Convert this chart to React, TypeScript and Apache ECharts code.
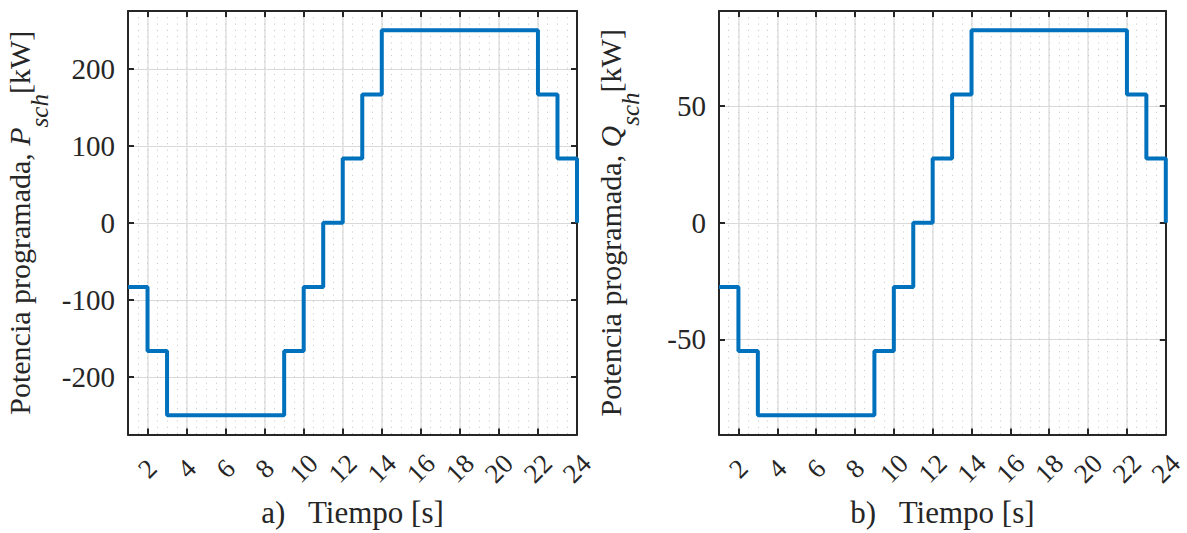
import React, { useEffect, useRef } from 'react';
import * as echarts from 'echarts';

// ---- data ----
const hours = [1, 2, 3, 4, 5, 6, 7, 8, 9, 10, 11, 12, 13, 14, 15, 16, 17, 18, 19, 20, 21, 22, 23, 24];
const pValues = [-83.33, -166.67, -250, -250, -250, -250, -250, -250, -166.67, -83.33, 0, 83.33, 166.67, 250, 250, 250, 250, 250, 250, 250, 250, 166.67, 83.33, 0];
const qValues = [-27.5, -55, -82.5, -82.5, -82.5, -82.5, -82.5, -82.5, -55, -27.5, 0, 27.5, 55, 82.5, 82.5, 82.5, 82.5, 82.5, 82.5, 82.5, 82.5, 55, 27.5, 0];
const xTicks = [2, 4, 6, 8, 10, 12, 14, 16, 18, 20, 22, 24];
const pTicks = [-200, -100, 0, 100, 200];
const qTicks = [-50, 0, 50];
const xRange = [1, 24];
const pRange = [-275, 275];
const qRange = [-90.75, 90.75];
const panelLabels = ['a)', 'b)'];
const yNames = ['P', 'Q'];

const FONT = 'Liberation Serif';
const DARK = '#262626';
const BLUE = '#0072BD';

export default function App() {
  const ref = useRef<HTMLDivElement>(null);
  useEffect(() => {
    if (!ref.current) return;
    const chart = echarts.init(ref.current, null, { renderer: 'svg' });
    const grids = [
      { left: 128, top: 11, width: 449, height: 426 },
      { left: 719, top: 11, width: 449, height: 426 },
    ];
    const panels = [
      { values: pValues, ticks: pTicks, range: pRange },
      { values: qValues, ticks: qTicks, range: qRange },
    ];
    const xAxis: any[] = [];
    const yAxis: any[] = [];
    const series: any[] = [];
    panels.forEach((pn, i) => {
      xAxis.push({
        gridIndex: i, type: 'value', position: 'bottom', min: xRange[0], max: xRange[1],
        axisLine: { show: true, onZero: false, lineStyle: { color: DARK, width: 2 } },
        axisTick: { show: true, inside: true, length: 6, customValues: xTicks, lineStyle: { color: DARK, width: 2 } },
        axisLabel: {
          customValues: xTicks, rotate: 45, margin: 34, align: 'center', verticalAlign: 'middle',
          fontFamily: FONT, fontSize: 27, color: DARK,
          formatter: (v: number) => '{t|' + v + '}',
          rich: { t: { fontFamily: FONT, fontSize: 27, color: DARK } },
        },
        splitLine: { show: true, lineStyle: { color: '#e0e0e0', width: 1.5 } },
        name: panelLabels[i] + '   Tiempo [s]', nameLocation: 'middle', nameGap: 63,
        nameTextStyle: { fontFamily: FONT, fontSize: 31, color: DARK, lineHeight: 30 },
      });
      xAxis.push({
        gridIndex: i, type: 'value', position: 'top', min: xRange[0], max: xRange[1],
        axisLine: { show: true, onZero: false, lineStyle: { color: DARK, width: 2 } },
        axisTick: { show: true, inside: true, length: 6, customValues: xTicks, lineStyle: { color: DARK, width: 2 } },
        axisLabel: { show: false },
        splitLine: { show: false },
      });
      xAxis.push({
        gridIndex: i, type: 'value', position: 'top', min: xRange[0], max: xRange[1], interval: 0.5,
        axisLine: { show: false }, axisTick: { show: false }, axisLabel: { show: false },
        splitLine: { show: true, lineStyle: { color: '#c4c4c4', width: 1, type: [1, 5.3] } },
      });
      yAxis.push({
        gridIndex: i, type: 'value', position: 'left', min: pn.range[0], max: pn.range[1],
        axisLine: { show: true, onZero: false, lineStyle: { color: DARK, width: 2 } },
        axisTick: { show: true, inside: true, length: 6, customValues: pn.ticks, lineStyle: { color: DARK, width: 2 } },
        axisLabel: {
          customValues: pn.ticks, margin: 13, fontFamily: FONT, fontSize: 29, color: DARK,
          formatter: (v: number) => '{t|' + v + '}',
          rich: { t: { fontFamily: FONT, fontSize: 29, color: DARK } },
        },
        splitLine: { show: true, lineStyle: { color: '#d9d9d9', width: 1 } },
        name: '{a|Potencia programada, }{i|' + yNames[i] + '}{s|sch}{a|[kW]}',
        nameLocation: 'middle', nameRotate: 90, nameGap: 76,
        nameTextStyle: {
          fontFamily: FONT, fontSize: 30, color: DARK,
          rich: {
            a: { fontFamily: FONT, fontSize: 30, color: DARK, lineHeight: 66, verticalAlign: 'middle' },
            i: { fontFamily: FONT, fontSize: 30, fontStyle: 'italic', color: DARK, lineHeight: 66, verticalAlign: 'middle' },
            s: { fontFamily: FONT, fontSize: 25, fontStyle: 'italic', color: DARK, lineHeight: 16, verticalAlign: 'bottom' },
          },
        },
      });
      yAxis.push({
        gridIndex: i, type: 'value', position: 'right', min: pn.range[0], max: pn.range[1],
        axisLine: { show: true, onZero: false, lineStyle: { color: DARK, width: 2 } },
        axisTick: { show: true, inside: true, length: 6, customValues: pn.ticks, lineStyle: { color: DARK, width: 2 } },
        axisLabel: { show: false },
        splitLine: { show: false },
      });
      series.push({
        type: 'line', xAxisIndex: i * 3, yAxisIndex: i * 2, step: 'end', showSymbol: false,
        clip: false, silent: true,
        lineStyle: { color: BLUE, width: 4 },
        data: hours.map((h, k) => [h, pn.values[k]]),
      });
    });
    chart.setOption({
      animation: false,
      backgroundColor: '#ffffff',
      textStyle: { fontFamily: FONT },
      grid: grids,
      xAxis, yAxis, series,
    });
    return () => chart.dispose();
  }, []);
  return <div ref={ref} style={{ position: 'absolute', left: 0, top: 0, width: 1187, height: 533 }} />;
}
